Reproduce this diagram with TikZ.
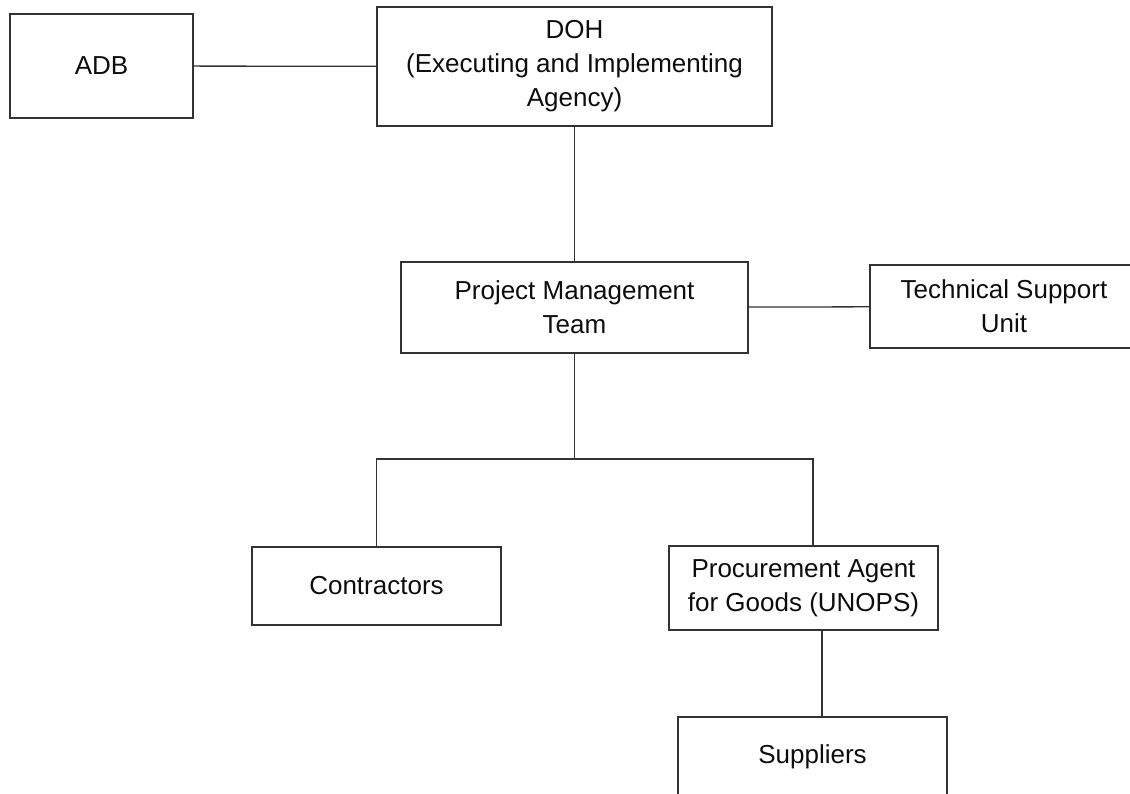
\documentclass[tikz,border=0pt]{standalone}
\usepackage{fontspec}
\setmainfont{Liberation Sans}
\begin{document}
\begin{tikzpicture}[x=1pt,y=-1pt,
  box/.style={draw=black!80, line width=1.3pt, align=center, text=black!95,
    font=\fontsize{26}{34}\selectfont, inner sep=0pt},
  link/.style={draw=black!80, line width=1.3pt}]
\useasboundingbox (0,0) rectangle (1130,794);

% boxes
\node[box, minimum width=183, minimum height=104] (adb) at (101.5,66) {ADB};
\node[box, minimum width=395, minimum height=119] (doh) at (574.5,66.5)
  {DOH\\(Executing and Implementing\\Agency)};
\node[box, minimum width=347, minimum height=91] (pmt) at (574.5,307.5)
  {Project Management\\Team};
\node[box, minimum width=268, minimum height=83] (tsu) at (1004,306.5)
  {Technical Support\\Unit};
\node[box, minimum width=249, minimum height=78] (con) at (376.5,586) {Contractors};
\node[box, minimum width=269, minimum height=84] (proc) at (803.5,588)
  {Procurement Agent\\for Goods (UNOPS)};
\node[box, minimum width=269, minimum height=80] (supp) at (812.5,757) {Suppliers};

% connectors
\coordinate (split) at (574.5,459);
\draw[link] (adb) -- (doh);
\draw[link] (doh) -- (pmt);
\draw[link] (pmt) -- (tsu);
\draw[link] (pmt) -- (split);
\draw[link] (con.north) |- (split) -| ([xshift=9.5pt]proc.north);
\draw[link] ([xshift=18.5pt]proc.south) -- ([xshift=9.5pt]supp.north);
\end{tikzpicture}
\end{document}
